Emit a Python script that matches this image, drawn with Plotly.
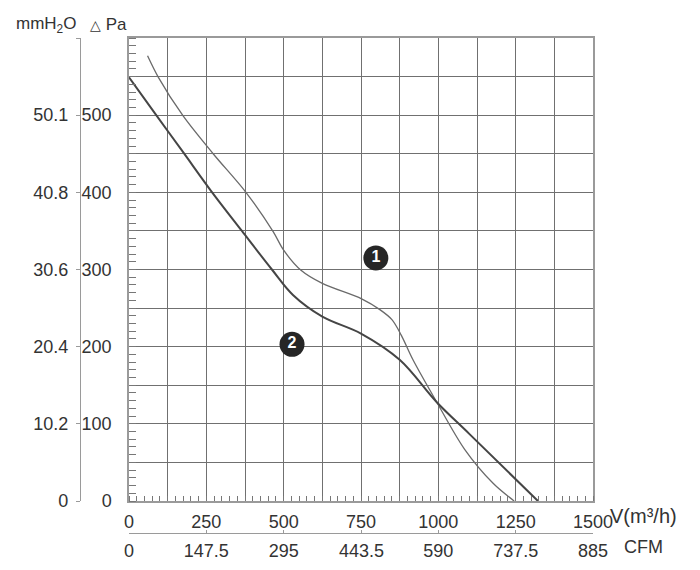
import plotly.graph_objects as go

# fan curves: airflow V in m3/h, static pressure in Pa
curve1_flow = [60, 95, 175, 272, 378, 466, 500, 556, 625, 752, 811, 850,
               880, 918, 995, 1085, 1177, 1245]
curve1_pa = [577, 549, 499, 450, 400, 349, 325, 299, 282, 262, 248, 235,
             215, 183, 128, 67, 23, 0]

curve2_flow = [0, 88, 175, 265, 365, 462, 530, 625, 750, 875, 995, 1100, 1322]
curve2_pa = [549, 500, 452, 402, 350, 300, 267, 239, 217, 183, 128, 87, 0]

badge_flow = [798, 527]
badge_pa = [315, 203]
badge_text = ['1', '2']

# axis ticks
flow_grid = list(range(0, 1501, 125))
flow_labels = [str(v) if v % 250 == 0 else '' for v in flow_grid]
cfm_vals = [0, 147.5, 295, 443.5, 590, 737.5, 885]
cfm_labels = ['0', '147.5', '295', '443.5', '590', '737.5', '885']
pa_grid = list(range(0, 601, 50))
pa_labels = [str(v) if v % 100 == 0 and v < 600 else '' for v in pa_grid]
mm_vals = [0, 100, 200, 300, 400, 500, 600]
mm_labels = ['0', '10.2', '20.4', '30.6', '40.8', '50.1', '']

W, H = 700, 570
OFF = 8  # the page body adds 8px around the figure
L, R, T, B = 12, 115, 30, 10
PW, PH = W - L - R, H - T - B


def px(x):
    return (x - OFF - L) / PW


def py(y):
    return (H - B - (y - OFF)) / PH


font = 'Liberation Sans, Arial, sans-serif'
txt = '#333333'
grid = '#707070'
edge = '#9a9a9a'

fig = go.Figure()

fig.add_trace(go.Scatter(
    x=curve1_flow, y=curve1_pa, mode='lines',
    line=dict(color='#6a6a6a', width=1.3, shape='spline', smoothing=0.9),
    hoverinfo='skip'))
fig.add_trace(go.Scatter(
    x=curve2_flow, y=curve2_pa, mode='lines',
    line=dict(color='#454545', width=2, shape='spline', smoothing=1.0),
    hoverinfo='skip'))
fig.add_trace(go.Scatter(
    x=badge_flow, y=badge_pa, mode='markers+text', text=badge_text,
    textposition='middle center',
    textfont=dict(family=font, size=16, color='white', weight='bold'),
    marker=dict(size=25, color='#262626'), hoverinfo='skip'))
# empty trace so the secondary axes get drawn
fig.add_trace(go.Scatter(x=[None], y=[None], xaxis='x2', yaxis='y2', hoverinfo='skip'))

fig.update_layout(
    width=W, height=H,
    margin=dict(l=L, r=R, t=T, b=B),
    paper_bgcolor='white', plot_bgcolor='white',
    showlegend=False,
    font=dict(family=font, size=18, color=txt),
    xaxis=dict(
        domain=[px(129), 1], range=[0, 1500], tickmode='array',
        tickvals=flow_grid, ticktext=flow_labels, automargin=False,
        showgrid=True, gridcolor=grid, gridwidth=1.2, zeroline=False,
        showline=True, linecolor=edge, linewidth=1.5, mirror=True,
        ticks='', ticklabelstandoff=4,
        minor=dict(tickmode='linear', tick0=0, dtick=25, ticks='inside',
                   ticklen=5, tickcolor='#777777', showgrid=False),
    ),
    yaxis=dict(
        domain=[py(501), 1], range=[0, 600], tickmode='array',
        tickvals=pa_grid, ticktext=pa_labels, automargin=False,
        showgrid=True, gridcolor=grid, gridwidth=1.2, zeroline=False,
        showline=True, linecolor=edge, linewidth=1.5, mirror=True,
        ticks='', ticklabelstandoff=12,
        minor=dict(tickmode='linear', tick0=0, dtick=10, ticks='inside',
                   ticklen=7, tickcolor='#777777', showgrid=False),
    ),
    yaxis2=dict(
        overlaying='y', anchor='free', position=px(80), side='left',
        range=[0, 600], tickmode='array', tickvals=mm_vals, ticktext=mm_labels,
        automargin=False,
        showgrid=False, zeroline=False, showline=True, linecolor=edge,
        linewidth=1.2, ticks='outside', ticklen=4, tickcolor=edge,
        ticklabelstandoff=4,
    ),
    xaxis2=dict(
        overlaying='x', anchor='free', position=py(533), side='bottom',
        range=[0, 885], tickmode='array', tickvals=cfm_vals, ticktext=cfm_labels,
        automargin=False,
        showgrid=False, zeroline=False, showline=True, linecolor=edge,
        linewidth=1.2, ticks='inside', ticklen=3, tickcolor=edge,
        ticklabelstandoff=1,
    ),
)

notes = [
    ('mmH<sub>2</sub>O', 14, 25, 17),
    ('<span style="font-size:14px">△</span> Pa', 88, 25, 17),
    ('V(m³/h)', 608, 516, 20),
    ('CFM', 622, 547, 18),
]
for text, x, y, size in notes:
    fig.add_annotation(text=text, xref='paper', yref='paper', x=px(x), y=py(y),
                       xanchor='left', yanchor='middle', showarrow=False,
                       font=dict(family=font, size=size, color=txt))

fig.write_html('out.html')
